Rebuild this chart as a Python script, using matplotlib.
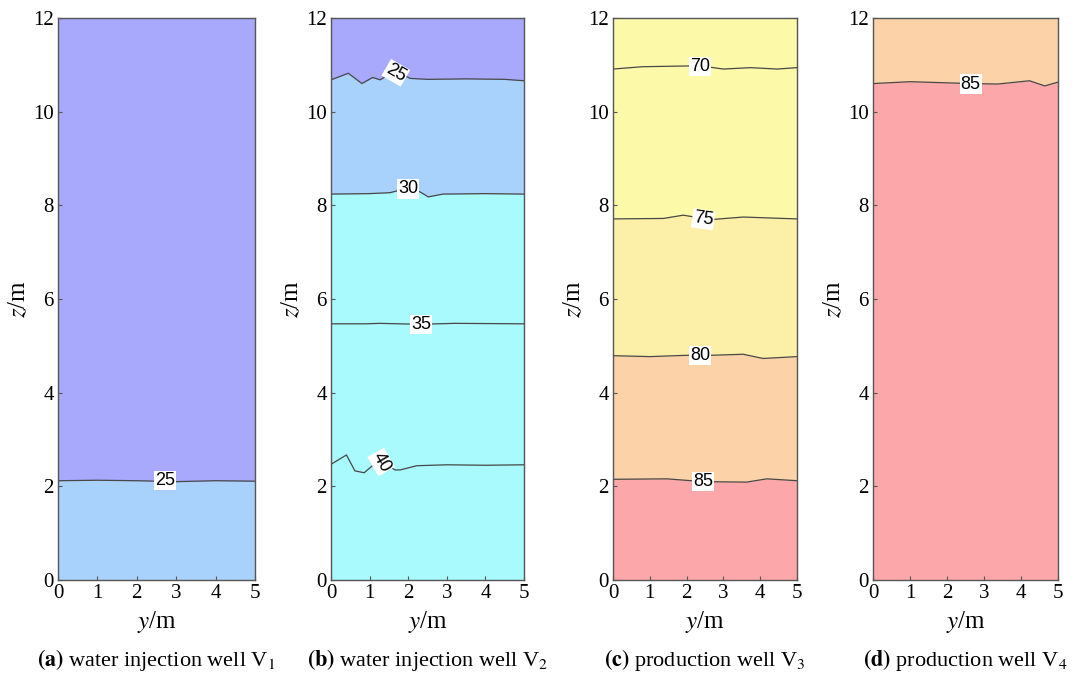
import matplotlib.pyplot as plt

plt.rcParams['font.family'] = 'Liberation Serif'
plt.rcParams['mathtext.fontset'] = 'stix'

# ---- contour lines (y in m, z in m) ----
# (a) water injection well V1
a_y25 = [0, 1, 2, 3, 4, 5]
a_z25 = [2.12, 2.13, 2.12, 2.10, 2.12, 2.11]

# (b) water injection well V2
b_y25 = [0, 0.45, 0.8, 1.08, 1.27, 1.44, 1.7, 2.05, 2.5, 3.5, 4.5, 5]
b_z25 = [10.68, 10.82, 10.60, 10.73, 10.68, 10.76, 10.85, 10.71, 10.69, 10.70, 10.69, 10.66]
b_y30 = [0, 1.0, 1.53, 2.0, 2.3, 2.52, 2.9, 4.0, 5]
b_z30 = [8.24, 8.25, 8.27, 8.37, 8.29, 8.18, 8.24, 8.25, 8.24]
b_y35 = [0, 0.9, 1.25, 2.3, 3.2, 5]
b_z35 = [5.47, 5.47, 5.48, 5.46, 5.48, 5.47]
b_y40 = [0, 0.4, 0.62, 0.86, 1.1, 1.31, 1.66, 1.79, 2.22, 3.0, 4.0, 5]
b_z40 = [2.47, 2.67, 2.33, 2.29, 2.46, 2.53, 2.35, 2.35, 2.44, 2.46, 2.45, 2.46]

# (c) production well V3
c_y70 = [0, 0.8, 2.36, 3.0, 3.74, 4.46, 5]
c_z70 = [10.91, 10.96, 10.98, 10.91, 10.94, 10.91, 10.94]
c_y75 = [0, 1.37, 1.91, 2.45, 2.73, 3.54, 5]
c_z75 = [7.71, 7.72, 7.79, 7.72, 7.70, 7.75, 7.71]
c_y80 = [0, 1.0, 2.09, 2.36, 2.73, 3.54, 4.08, 5]
c_z80 = [4.79, 4.77, 4.80, 4.79, 4.80, 4.82, 4.73, 4.77]
c_y85 = [0, 1.46, 2.45, 3.63, 4.18, 5]
c_z85 = [2.15, 2.16, 2.10, 2.09, 2.16, 2.12]

# (d) production well V4
d_y85 = [0, 1.0, 2.64, 3.37, 4.23, 4.64, 5]
d_z85 = [10.60, 10.64, 10.60, 10.59, 10.66, 10.55, 10.63]

# band colours (temperature levels)
col = {'<25': '#a8a8fc', '25-30': '#a8d2fc', '30-45': '#a8fafc',
       '<75': '#fcfaa8', '75-80': '#fcf0a8', '80-85': '#fcd2a8', '>85': '#fca8aa'}

# panel: top colour, list of (y, z, colour below line), labels (text, y, z, rotation)
panels = [
    ('<25', [(a_y25, a_z25, '25-30')],
     [('25', 2.72, 2.12, 0)],
     r'$\mathbf{(a)}$ water injection well V$_1$'),
    ('<25', [(b_y25, b_z25, '25-30'), (b_y30, b_z30, '30-45'),
             (b_y35, b_z35, '30-45'), (b_y40, b_z40, '30-45')],
     [('25', 1.68, 10.83, -30), ('30', 2.0, 8.35, 0),
      ('35', 2.33, 5.46, 0), ('40', 1.3, 2.52, -60)],
     r'$\mathbf{(b)}$ water injection well V$_2$'),
    ('<75', [(c_y70, c_z70, '<75'), (c_y75, c_z75, '75-80'),
             (c_y80, c_z80, '80-85'), (c_y85, c_z85, '>85')],
     [('70', 2.36, 10.96, 0), ('75', 2.45, 7.70, -8),
      ('80', 2.36, 4.79, 0), ('85', 2.45, 2.11, 0)],
     r'$\mathbf{(c)}$ production well V$_3$'),
    ('80-85', [(d_y85, d_z85, '>85')],
     [('85', 2.64, 10.59, 0)],
     r'$\mathbf{(d)}$ production well V$_4$'),
]

# axes boxes in pixels (left, right) measured on the 1077x680 picture
boxes = [(58, 255), (331, 524), (613, 797), (873, 1058)]

fig = plt.figure(figsize=(10.77, 6.80), dpi=100)
W, H = 1077.0, 680.0

for (top, lines, labels, caption), (l, r) in zip(panels, boxes):
    ax = fig.add_axes([l / W, (H - 580) / H, (r - l) / W, 562 / H])
    ax.fill_between([0, 5], 0, 12, color=col[top], lw=0)
    for y, z, below in lines:
        ax.fill_between(y, 0, z, color=col[below], lw=0)
    for y, z, below in lines:
        ax.plot(y, z, color='#484848', lw=0.9)
    for txt, x, z, rot in labels:
        ax.text(x, z, txt, family='Liberation Sans', fontsize=13, rotation=rot,
                ha='center', va='center',
                bbox=dict(boxstyle='square,pad=0.06', fc='white', ec='none'))
    ax.set_xlim(0, 5)
    ax.set_ylim(0, 12)
    ax.set_xticks(range(0, 6))
    ax.set_yticks(range(0, 13, 2))
    ax.tick_params(direction='in', length=3, width=0.8, labelsize=15,
                   pad=3, colors='#555555', labelcolor='black')
    for s in ax.spines.values():
        s.set_color('#555555')
        s.set_linewidth(1.0)
    ax.set_xlabel(r'$y$/m', fontsize=18, labelpad=4)
    ax.set_ylabel(r'$z$/m', fontsize=18, labelpad=2)
    fig.text((l + r) / 2 / W, (H - 660) / H, caption, fontsize=16,
             ha='center', va='center')

fig.savefig('out.png', dpi=100)
